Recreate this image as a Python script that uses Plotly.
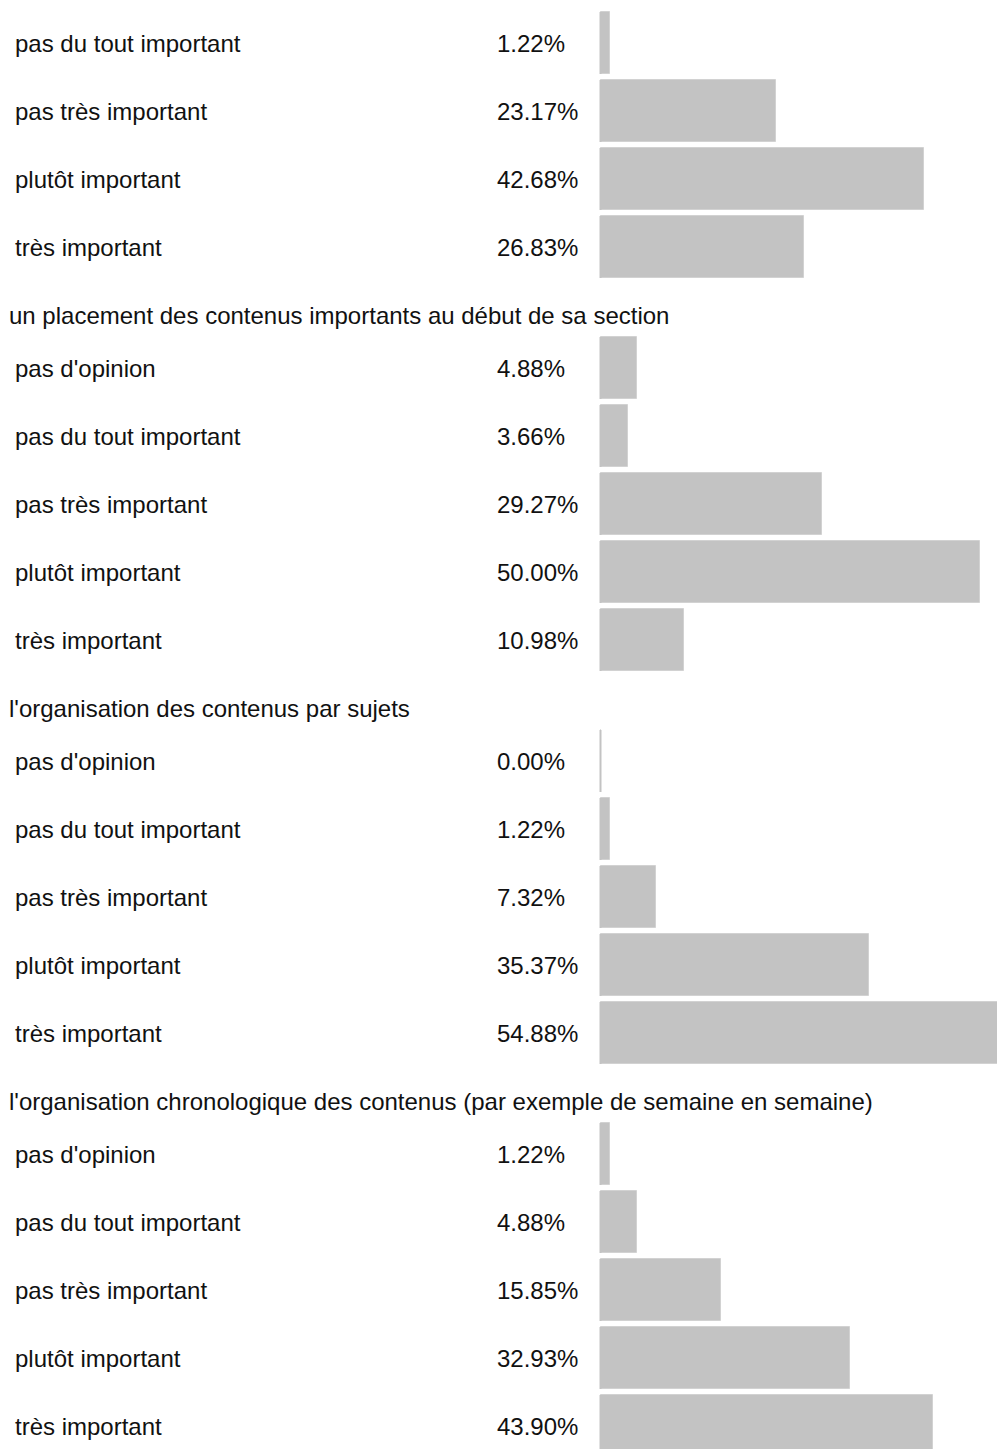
import plotly.graph_objects as go

# ---- data ----
answer_labels_g1 = ["pas du tout important", "pas très important", "plutôt important", "très important"]
answer_labels = ["pas d'opinion", "pas du tout important", "pas très important", "plutôt important", "très important"]

group_titles = [
    None,
    "un placement des contenus importants au début de sa section",
    "l'organisation des contenus par sujets",
    "l'organisation chronologique des contenus (par exemple de semaine en semaine)",
]
values_g1 = [1.22, 23.17, 42.68, 26.83]
values_g2 = [4.88, 3.66, 29.27, 50.00, 10.98]
values_g3 = [0.00, 1.22, 7.32, 35.37, 54.88]
values_g4 = [1.22, 4.88, 15.85, 32.93, 43.90]

groups = [
    (group_titles[0], answer_labels_g1, values_g1),
    (group_titles[1], answer_labels, values_g2),
    (group_titles[2], answer_labels, values_g3),
    (group_titles[3], answer_labels, values_g4),
]

# ---- layout constants (pixels, relative to the figure; page adds an 8px body margin) ----
PAGE_OFF = 8
W, H = 1005 - PAGE_OFF, 1449 - PAGE_OFF
ROW = 68
TITLE_STEP = 53
FIRST = 43 - PAGE_OFF
BAR_H = 62
X0_PX = 600.5 - PAGE_OFF
PX_PER_PCT = 7.58

FONT = "Liberation Sans, Arial, sans-serif"
FS = 24
TXT = "#111111"
BAR = "#c3c3c3"

ys, xs, annotations = [], [], []
cur = FIRST
for title, labels, vals in groups:
    if title:
        annotations.append(dict(x=-1 / W, y=cur, xref="paper", yref="y", text=title,
                                showarrow=False, xanchor="left", yanchor="middle",
                                font=dict(family=FONT, size=FS, color=TXT)))
        cur += TITLE_STEP
    for lab, v in zip(labels, vals):
        ys.append(cur)
        xs.append(v)
        annotations.append(dict(x=5 / W, y=cur, xref="paper", yref="y", text=lab,
                                showarrow=False, xanchor="left", yanchor="middle",
                                font=dict(family=FONT, size=FS, color=TXT)))
        annotations.append(dict(x=487 / W, y=cur, xref="paper", yref="y", text=f"{v:.2f}%",
                                showarrow=False, xanchor="left", yanchor="middle",
                                font=dict(family=FONT, size=FS, color=TXT)))
        cur += ROW

fig = go.Figure()
fig.add_trace(go.Bar(
    x=xs, y=ys, orientation="h", width=BAR_H, base=0,
    marker=dict(color=BAR, line=dict(color="#d2d2d2", width=1)),
    hoverinfo="skip", showlegend=False,
))
# baseline tick at each bar start (keeps zero-valued bars visible as a thin line)
fig.add_trace(go.Scatter(
    x=[0] * len(ys), y=ys, mode="markers",
    marker=dict(symbol="line-ns", size=BAR_H / 1.4, line=dict(color=BAR, width=2)),
    hoverinfo="skip", showlegend=False,
))

fig.update_layout(
    width=W, height=H,
    margin=dict(l=0, r=0, t=0, b=0),
    paper_bgcolor="white", plot_bgcolor="white",
    bargap=0,
    xaxis=dict(range=[-X0_PX / PX_PER_PCT, (W - X0_PX) / PX_PER_PCT], visible=False, fixedrange=True),
    yaxis=dict(range=[H, 0], visible=False, fixedrange=True),
    annotations=annotations,
)

fig.write_html("out.html", config={"displayModeBar": False})
